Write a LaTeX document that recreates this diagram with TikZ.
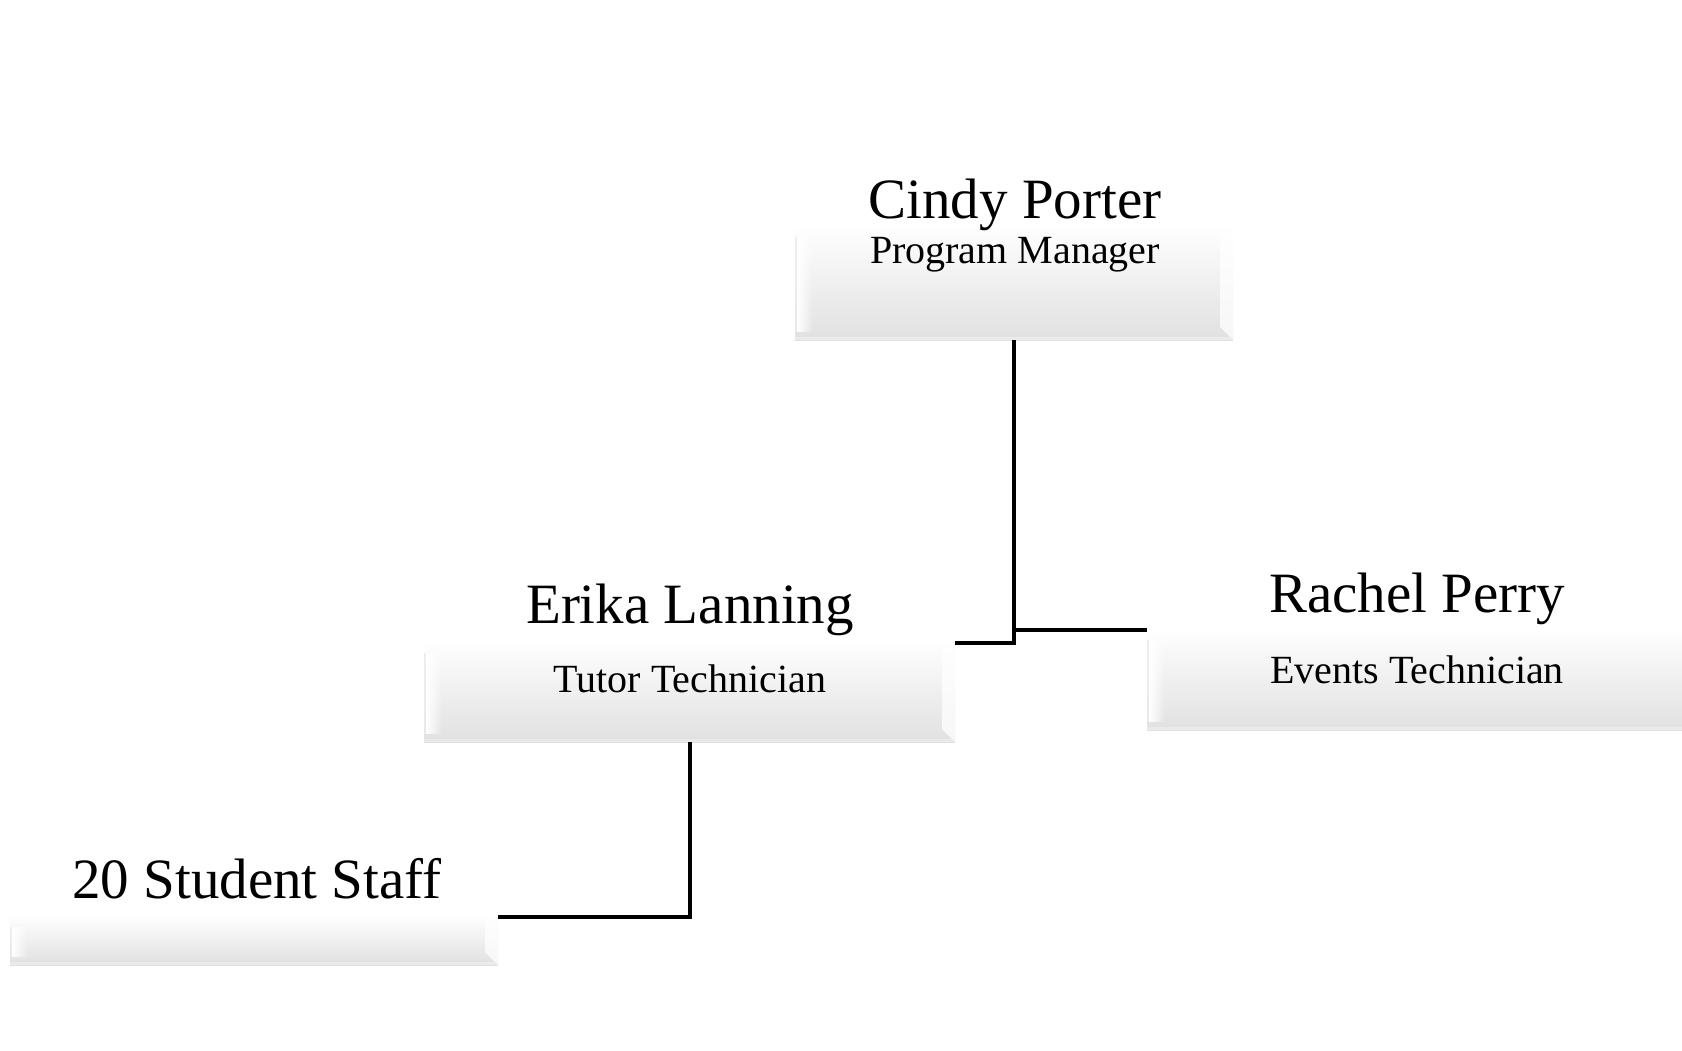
\documentclass[tikz,border=0pt]{standalone}
\usepackage{fontspec}
\setmainfont{Liberation Serif}
\usetikzlibrary{fadings}
\begin{document}
\begin{tikzpicture}[x=1pt,y=-1pt,
  bevelbox/.style={rectangle, inner sep=0pt, outer sep=0pt,
    path picture={
      \shade[top color=white, bottom color=black!12]
        (path picture bounding box.north west) rectangle (path picture bounding box.south east);
      \fill[white, path fading=east]
        ([xshift=2pt,yshift=-12pt]path picture bounding box.north west) rectangle
        ([xshift=18pt,yshift=8pt]path picture bounding box.south west);
      \fill[black!8, opacity=0.8]
        ([yshift=-12pt]path picture bounding box.north west) rectangle
        ([xshift=2pt,yshift=8pt]path picture bounding box.south west);
      \fill[white, opacity=0.75]
        ([xshift=-13pt]path picture bounding box.north east) --
        (path picture bounding box.north east) --
        (path picture bounding box.south east) --
        ([xshift=-13pt,yshift=13pt]path picture bounding box.south east) -- cycle;
      \fill[black!6, opacity=0.6]
        ([yshift=3pt]path picture bounding box.south west) rectangle (path picture bounding box.south east);
    }},
  nametext/.style={anchor=base, inner sep=0pt, font=\fontsize{57}{60}\selectfont},
  roletext/.style={anchor=base, inner sep=0pt, font=\fontsize{40}{44}\selectfont},
  conn/.style={line width=4pt, line join=miter, black}]
\useasboundingbox (0,0) rectangle (1682,1050);
\fill[white] (0,0) rectangle (1682,1050);

% boxes
\node[bevelbox, minimum width=438pt, minimum height=115pt] (cindy) at (1014,282.5) {};
\node[bevelbox, minimum width=531pt, minimum height=101pt] (erika) at (689.5,691.5) {};
\node[bevelbox, minimum width=553pt, minimum height=102pt] (rachel) at (1423.5,679) {};
\node[bevelbox, minimum width=488pt, minimum height=50pt] (student) at (254,940) {};

% texts
\node[nametext] (cindyname) at (1015,218) {Cindy Porter};
\node[roletext] (cindyrole) at (1015,263) {Program Manager};
\node[nametext] (erikaname) at (690,623) {Erika Lanning};
\node[roletext] (erikarole) at (690,692) {Tutor Technician};
\node[nametext] (rachelname) at (1417,612) {Rachel Perry};
\node[roletext] (rachelrole) at (1417,683) {Events Technician};
\node[nametext] (studentname) at (257,898) {20 Student Staff};

% connectors
\coordinate (erikajoin) at ([yshift=-2pt]erika.north east);
\coordinate (racheljoin) at ([yshift=-2pt]rachel.north west);
\coordinate (studentjoin) at ([yshift=-2pt]student.north east);
\draw[conn] (cindy.south) |- (erikajoin);
\draw[conn] (cindy.south) |- (racheljoin);
\draw[conn] (erika.south) |- (studentjoin);
\end{tikzpicture}
\end{document}
